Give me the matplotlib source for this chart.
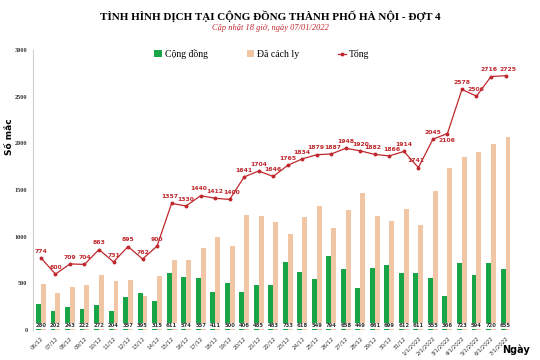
import numpy as np
import matplotlib.pyplot as plt

# Du lieu doc tu hinh
ngay = ['06/12', '07/12', '08/12', '09/12', '10/12', '11/12', '12/12', '13/12', '14/12',
        '15/12', '16/12', '17/12', '18/12', '19/12', '20/12', '21/12', '22/12', '23/12',
        '24/12', '25/12', '26/12', '27/12', '28/12', '29/12', '30/12', '31/12',
        '1/1/2022', '2/1/2022', '3/1/2022', '4/1/2022', '5/1/2022', '6/1/2022', '7/1/2022']
cong_dong = [280, 202, 243, 222, 272, 204, 357, 395, 315, 611, 574, 557, 411, 500, 406,
             485, 483, 733, 618, 549, 794, 658, 449, 661, 699, 612, 611, 555, 366, 723,
             594, 720, 655]
tong = [774, 600, 709, 704, 863, 731, 895, 762, 900, 1357, 1330, 1440, 1412, 1400, 1641,
        1704, 1646, 1765, 1834, 1879, 1887, 1948, 1920, 1882, 1866, 1914, 1741, 2045,
        2106, 2578, 2506, 2716, 2725]
da_cach_ly = [t - c for t, c in zip(tong, cong_dong)]

GREEN = '#17a548'
BEIGE = '#f0c6a4'
RED = '#c0272d'
serif = ['Liberation Serif', 'DejaVu Serif']

fig = plt.figure(figsize=(5.4, 3.6), dpi=100)
ax = fig.add_axes([0.061, 0.083, 0.902, 0.778])

x = np.arange(len(ngay))
w = 0.34
b1 = ax.bar(x - w / 2, cong_dong, width=w, color=GREEN, label='Cộng đồng', zorder=2)
b2 = ax.bar(x + w / 2, da_cach_ly, width=w, color=BEIGE, label='Đã cách ly', zorder=2)
l1, = ax.plot(x, tong, color=RED, lw=0.9, marker='o', ms=1.8, label='Tổng', zorder=3)

# nhan so cong dong o chan cot
for i, v in enumerate(cong_dong):
    ax.text(i, 45, str(v), ha='center', va='center', fontsize=3.8, fontweight='bold',
            color='#333333', zorder=4,
            bbox=dict(boxstyle='square,pad=0.15', fc='white', ec='none'))

# nhan tong (mot vai nhan dich nhe cho khoi chong)
dich_x = {'1357': -0.15, '1440': -0.15, '1412': 0.0, '1400': 0.15, '1879': -0.1,
          '1887': 0.1, '1882': -0.15, '1866': 0.15, '1741': -0.2, '2716': -0.15,
          '2725': 0.15}
for i, v in enumerate(tong):
    dy, va = 45, 'bottom'
    if v == 2106:
        dy, va = -45, 'top'
    ax.text(i + dich_x.get(str(v), 0), v + dy, str(v), ha='center', va=va, fontsize=4.4,
            fontweight='bold', color=RED, zorder=5)

ax.set_xlim(-0.55, 33.0)
ax.set_ylim(0, 3000)
ax.set_yticks(range(0, 3001, 500))
ax.set_yticklabels([str(t) for t in range(0, 3001, 500)], fontsize=4.5,
                   fontweight='bold', family=serif, color='#333333')
ax.set_xticks(x)
ax.set_xticklabels(ngay, rotation=45, ha='right', rotation_mode='anchor',
                   fontsize=4, color='#333333')
ax.tick_params(length=0, pad=4)
ax.tick_params(axis='y', pad=4)
for s in ['top', 'right', 'bottom']:
    ax.spines[s].set_visible(False)
ax.spines['left'].set_color('#d0d0d0')
ax.spines['left'].set_linewidth(0.8)

fig.text(0.017, 0.62, 'Số mắc', rotation=90, ha='center', va='center',
         fontsize=6.5, fontweight='bold')
fig.text(0.955, 0.015, 'Ngày', ha='center', va='bottom', fontsize=7, fontweight='bold')

fig.text(0.5, 0.955, 'TÌNH HÌNH DỊCH TẠI CỘNG ĐỒNG THÀNH PHỐ HÀ NỘI - ĐỢT 4',
         ha='center', va='center', fontsize=8, fontweight='bold', family=serif)
fig.text(0.5, 0.922, 'Cập nhật 18 giờ, ngày 07/01/2022', ha='center', va='center',
         fontsize=6, style='italic', color=RED, family=serif)

ax.legend([b1, b2, l1], ['Cộng đồng', 'Đã cách ly', 'Tổng'],
          loc='upper center', bbox_to_anchor=(0.47, 1.035), ncol=3, frameon=False,
          prop={'family': serif, 'size': 7}, handlelength=0.8, handleheight=0.6,
          columnspacing=4, handletextpad=0.3)

fig.savefig('out.png', dpi=100)
